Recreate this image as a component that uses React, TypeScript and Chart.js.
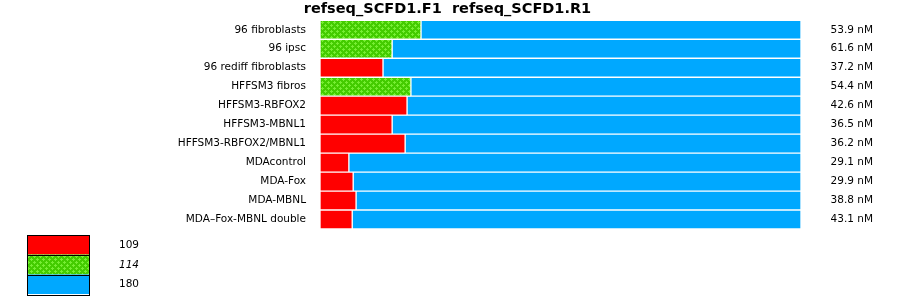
import React, { useEffect, useRef } from 'react';
import { Chart, registerables } from 'chart.js';

Chart.register(...registerables);

const titleText = 'refseq_SCFD1.F1  refseq_SCFD1.R1';

const categories = [
  '96 fibroblasts',
  '96 ipsc',
  '96 rediff fibroblasts',
  'HFFSM3 fibros',
  'HFFSM3-RBFOX2',
  'HFFSM3-MBNL1',
  'HFFSM3-RBFOX2/MBNL1',
  'MDAcontrol',
  'MDA-Fox',
  'MDA-MBNL',
  'MDA\u2013Fox-MBNL double',
];

const concentrations = [
  '53.9 nM', '61.6 nM', '37.2 nM', '54.4 nM', '42.6 nM', '36.5 nM',
  '36.2 nM', '29.1 nM', '29.9 nM', '38.8 nM', '43.1 nM',
];

// share (%) of each bar
const values109 = [null, null, 13.1, null, 18.1, 15.0, 17.7, 6.0, 6.9, 7.5, 6.7];
const values114 = [21.0, 15.0, null, 18.9, null, null, null, null, null, null, null];
const values180 = [79.0, 85.0, 86.9, 81.1, 81.9, 85.0, 82.3, 94.0, 93.1, 92.5, 93.3];

const legendLabels = ['109', '114', '180'];

const RED = '#ff0000';
const BLUE = '#00a8ff';

function makeGreenPattern(): CanvasPattern | string {
  const tile = document.createElement('canvas');
  tile.width = 6;
  tile.height = 6;
  const t = tile.getContext('2d');
  if (!t) return '#44cc00';
  t.fillStyle = '#44cc00';
  t.fillRect(0, 0, 6, 6);
  t.fillStyle = '#77ee33';
  const plus = (cx: number, cy: number) => {
    for (const [dx, dy] of [[0, 0], [1, 0], [-1, 0], [0, 1], [0, -1]]) {
      const x = (cx + dx + 6) % 6;
      const y = (cy + dy + 6) % 6;
      t.fillRect(x, y, 1, 1);
    }
  };
  plus(1, 1);
  plus(4, 4);
  const p = t.createPattern(tile, 'repeat');
  return p || '#44cc00';
}

export default function App() {
  const ref = useRef<HTMLCanvasElement | null>(null);

  useEffect(() => {
    if (!ref.current) return;
    const green = makeGreenPattern();
    const colors: any[] = [RED, green, BLUE];
    const font = { family: 'DejaVu Sans', size: 10.5 };

    const legendPlugin = {
      id: 'boxLegend',
      afterDraw(chart: any) {
        const ctx = chart.ctx as CanvasRenderingContext2D;
        ctx.save();
        const x0 = 27;
        const tops = [235, 254.5, 274.5];
        const heights = [19.5, 20, 19.5];
        const textY = [245, 265, 284];
        for (let i = 0; i < 3; i++) {
          ctx.fillStyle = colors[i];
          ctx.fillRect(x0, tops[i], 62, heights[i]);
        }
        ctx.strokeStyle = '#000';
        ctx.lineWidth = 1;
        for (let i = 0; i < 3; i++) {
          ctx.strokeRect(x0 + 0.5, Math.round(tops[i]) + 0.5, 62, Math.round(heights[i]));
        }
        ctx.fillStyle = '#000';
        ctx.textBaseline = 'middle';
        ctx.textAlign = 'left';
        for (let i = 0; i < 3; i++) {
          ctx.font = (i === 1 ? 'italic ' : '') + '10.5px "DejaVu Sans"';
          ctx.fillText(legendLabels[i], 119, textY[i]);
        }
        ctx.restore();
      },
    };

    const chart = new Chart(ref.current, {
      type: 'bar',
      data: {
        labels: categories,
        datasets: [
          { label: legendLabels[0], data: values109 as any, backgroundColor: RED },
          { label: legendLabels[1], data: values114 as any, backgroundColor: green as any },
          { label: legendLabels[2], data: values180 as any, backgroundColor: BLUE },
        ].map((d) => ({
          ...d,
          borderColor: '#ffffff',
          borderWidth: 1,
          borderSkipped: false,
          barPercentage: 1,
          categoryPercentage: 1,
          yAxisID: 'y',
        })),
      },
      options: {
        indexAxis: 'y',
        animation: false,
        responsive: false,
        events: [],
        layout: { padding: { left: 22, right: 27, top: 0, bottom: 70 } },
        plugins: {
          legend: { display: false },
          tooltip: { enabled: false },
          title: {
            display: true,
            text: titleText,
            color: '#000',
            font: { family: 'DejaVu Sans', size: 14.5, weight: 'bold', lineHeight: 1.2 },
            padding: { top: 0, bottom: 2.6 },
          },
        },
        scales: {
          x: { stacked: true, display: false, min: 0, max: 100 },
          y: {
            stacked: true,
            position: 'left',
            grid: { display: false, drawTicks: false },
            border: { display: false },
            ticks: { color: '#000', font, padding: 14, autoSkip: false },
            afterFit: (s: any) => { s.width = 298; },
          },
          y2: {
            type: 'category',
            labels: concentrations,
            position: 'right',
            offset: true,
            grid: { display: false, drawTicks: false },
            border: { display: false },
            ticks: { color: '#000', font, padding: 0, crossAlign: 'far', autoSkip: false },
            afterFit: (s: any) => { s.width = 72; },
          },
        },
      } as any,
      plugins: [legendPlugin],
    });
    return () => chart.destroy();
  }, []);

  return (
    <div style={{ position: 'absolute', left: 0, top: 0, width: 900, height: 299, background: '#fff' }}>
      <canvas ref={ref} width={900} height={299} style={{ display: 'block' }} />
    </div>
  );
}
